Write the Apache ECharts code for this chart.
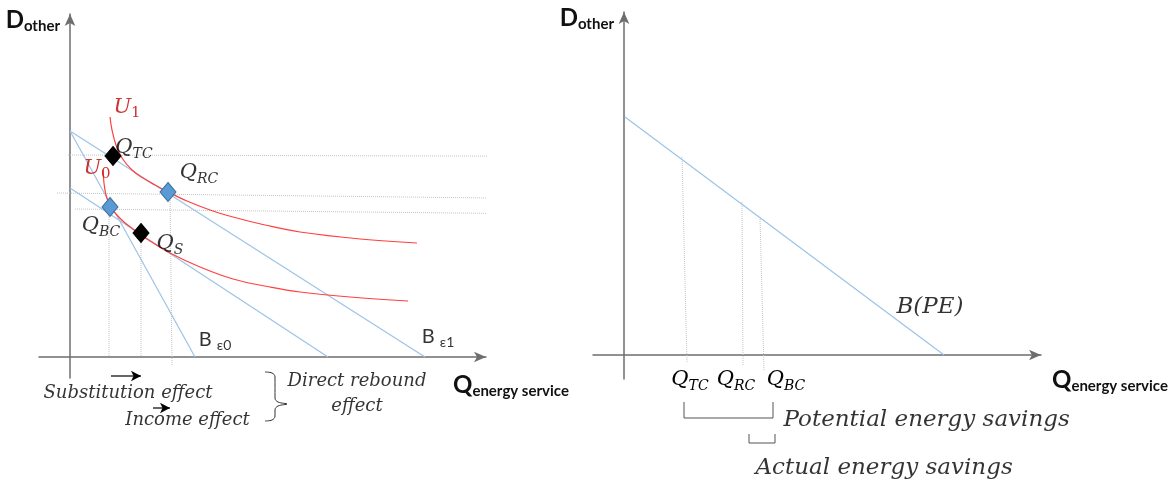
<!DOCTYPE html>
<html>
<head>
<meta charset="utf-8">
<title>Direct rebound effect</title>
<script src="https://cdn.jsdelivr.net/npm/echarts@6.0.0/dist/echarts.min.js"></script>
<style>
  html, body { margin: 0; padding: 0; background: #fff; }
  #chart { width: 1174px; height: 488px; }
</style>
</head>
<body>
<div id="chart"></div>
<script>
// left panel (1 unit ~ 10px, origin where the axes cross)
const budgetB0 = [[0, 22.6], [12.5, 0]];
const budgetB1 = [[0, 22.6], [35.5, 0]];
const budgetComp = [[0, 16.9], [25.8, 0]];
const curveU1 = [[4.0, 24.0], [4.2, 22.7], [4.6, 21.2], [5.2, 19.9], [6.2, 18.7], [7.3, 17.9], [8.5, 17.2],
  [9.8, 16.5], [11.7, 15.6], [14.0, 14.7], [16.3, 14.0], [19.5, 13.2], [23.0, 12.5], [29.0, 11.8], [34.7, 11.4]];
const curveU0 = [[3.3, 18.7], [3.4, 17.4], [3.6, 16.2], [4.0, 15.1], [4.6, 14.3], [5.4, 13.5], [6.3, 12.8],
  [7.1, 12.2], [8.0, 11.6], [10.0, 10.4], [13.0, 9.0], [16.3, 7.8], [20.0, 7.0], [23.0, 6.5], [28.0, 6.0], [33.8, 5.6]];
const pointTC = [4.3, 20.1];
const pointRC = [9.8, 16.5];
const pointBC = [4.0, 15.0];
const pointS = [7.1, 12.4];
const levelLines = [
  [[-0.2, 20.2], [76.7, 20.0]],
  [[-1.3, 16.4], [76.7, 15.5]],
  [[0.5, 14.8], [76.7, 14.0]]
];
const dropLinesLeft = [
  [[3.9, 15.0], [3.9, 0]],
  [[7.1, 12.4], [7.1, 0]],
  [[10.0, 16.5], [10.2, -0.8]]
];
const substitutionArrow = [[4.1, -1.9], [7.1, -1.9]];
const incomeArrow = [[8.3, -5.1], [10.0, -5.1]];
const brace = [[19.5, -1.5], [20.2, -1.6], [20.5, -2.0], [20.5, -4.1], [20.8, -4.5], [21.7, -4.7],
  [20.8, -4.9], [20.5, -5.3], [20.5, -5.9], [20.2, -6.3], [19.5, -6.4]];

// right panel
const budgetPE = [[0.1, 23.8], [32.0, 0]];
const dropLinesRight = [
  [[5.8, 19.8], [6.3, -0.8]],
  [[11.8, 15.3], [11.9, -1.1]],
  [[13.6, 13.8], [14.0, -1.6]]
];
const qTicks = [6.6, 11.2, 16.2];
const qTickLabels = ['TC', 'RC', 'BC'];
const potentialBracket = [[6.0, -4.7], [6.0, -6.3], [14.9, -6.3], [14.9, -4.7]];
const actualBracket = [[12.5, -7.9], [12.5, -8.8], [15.1, -8.8], [15.1, -7.9]];

const mathFont = 'DejaVu Serif';
const rich = {
  q: { fontFamily: mathFont, fontStyle: 'italic', fontSize: 21, color: '#000', lineHeight: 26 },
  s: { fontFamily: mathFont, fontStyle: 'italic', fontSize: 14, color: '#000', lineHeight: 10, verticalAlign: 'bottom' },
  u: { fontFamily: mathFont, fontStyle: 'italic', fontSize: 21, color: '#c00000', lineHeight: 26 },
  us: { fontFamily: mathFont, fontSize: 15, color: '#c00000', lineHeight: 10, verticalAlign: 'bottom' },
  b: { fontFamily: 'Lato', fontSize: 20, color: '#000', lineHeight: 24 },
  bs: { fontFamily: 'Lato', fontSize: 14, color: '#000', lineHeight: 12, verticalAlign: 'bottom' },
  t: { fontFamily: mathFont, fontStyle: 'italic', fontSize: 18, color: '#000', lineHeight: 25 },
  big: { fontFamily: mathFont, fontStyle: 'italic', fontSize: 23, color: '#000', lineHeight: 30 },
  d: { fontFamily: 'Lato', fontWeight: 'bold', fontSize: 24, color: '#111', lineHeight: 28 },
  ds: { fontFamily: 'Lato', fontWeight: 'bold', fontSize: 15, color: '#111', lineHeight: 12, verticalAlign: 'bottom' }
};

const mid = seg => [(seg[0][0] + seg[seg.length - 1][0]) / 2, seg[0][1]];

function line(data, grid, color, width, type, extra) {
  return Object.assign({
    type: 'line', xAxisIndex: grid, yAxisIndex: grid, data: data,
    symbol: 'none', clip: false, silent: true,
    lineStyle: { color: color, width: width, type: type || 'solid' }
  }, extra || {});
}

function arrow(seg) {
  return line([seg[0], { value: seg[1], symbol: 'arrow', symbolSize: [8, 10], symbolRotate: -90 }],
    0, '#000', 1.2, 'solid', { showSymbol: true, itemStyle: { color: '#000' } });
}

function diamonds(points, fill, border) {
  return {
    type: 'scatter', xAxisIndex: 0, yAxisIndex: 0, data: points, silent: true, z: 5,
    symbol: 'diamond', symbolSize: [16, 19],
    itemStyle: { color: fill, borderColor: border, borderWidth: 1, opacity: 1 }
  };
}

function notes(grid, items) {
  return {
    type: 'scatter', xAxisIndex: grid, yAxisIndex: grid, silent: true, clip: false, z: 6,
    symbol: 'circle', symbolSize: 1, itemStyle: { color: 'rgba(0,0,0,0)' },
    label: { show: true, position: 'inside', color: '#000', rich: rich },
    data: items
  };
}

const grey = '#c4c4c4';
const blue = '#9dc3e6';
const red = '#ff4040';

function axes(gridIndex, xMin, xMax, yMin, yMax, nameGapX, padX, showTicks) {
  const axisLine = {
    onZero: true, symbol: ['none', 'arrow'], symbolSize: [8, 12],
    lineStyle: { color: '#6e6e6e', width: 1.5 }
  };
  const x = {
    type: 'value', gridIndex: gridIndex, min: xMin, max: xMax,
    axisLine: axisLine, axisTick: { show: false }, splitLine: { show: false },
    axisLabel: showTicks ? {
      show: true, customValues: qTicks, margin: -12, rich: rich,
      formatter: (v, i) => '{q|Q}{s|' + qTickLabels[qTicks.indexOf(v) >= 0 ? qTicks.indexOf(v) : i] + '}'
    } : { show: false },
    name: '{d|Q}{ds|energy service}', nameLocation: 'end', nameGap: nameGapX,
    nameTextStyle: { align: 'left', verticalAlign: 'top', padding: [padX, 0, 0, 0], rich: rich }
  };
  const y = {
    type: 'value', gridIndex: gridIndex, min: yMin, max: yMax,
    axisLine: axisLine, axisTick: { show: false }, splitLine: { show: false }, axisLabel: { show: false },
    name: '{d|D}{ds|other}', nameLocation: 'end', nameGap: -20,
    nameTextStyle: { align: 'right', verticalAlign: 'bottom', padding: [0, 10, 0, 0], rich: rich }
  };
  return [x, y];
}

const left = axes(0, -3.1, 41.6, -2.1, 34.3, -33, 14, false);
const right = axes(1, -3.1, 41.7, -2.4, 34.3, 11, 11, true);

const series = [];
levelLines.forEach(s => series.push(line(s, 0, grey, 1, 'dotted')));
dropLinesLeft.forEach(s => series.push(line(s, 0, grey, 1, 'dotted')));
dropLinesRight.forEach(s => series.push(line(s, 1, grey, 1, 'dotted')));
series.push(line(budgetB0, 0, blue, 1.2));
series.push(line(budgetB1, 0, blue, 1.2));
series.push(line(budgetComp, 0, blue, 1.2));
series.push(line(curveU1, 0, red, 1.2, 'solid', { smooth: 0.4 }));
series.push(line(curveU0, 0, red, 1.2, 'solid', { smooth: 0.4 }));
series.push(line(budgetPE, 1, blue, 1.2));
series.push(arrow(substitutionArrow));
series.push(arrow(incomeArrow));
series.push(line(brace, 0, '#333', 1, 'solid', { smooth: 0.4 }));
series.push(line(potentialBracket, 1, '#555', 1));
series.push(line(actualBracket, 1, '#555', 1));
series.push(diamonds([pointTC, pointS], '#000', '#000'));
series.push(diamonds([pointRC, pointBC], '#5b9bd5', '#41719c'));

series.push(notes(0, [
  { value: pointTC, label: { offset: [21, -8], formatter: '{q|Q}{s|TC}' } },
  { value: pointRC, label: { offset: [31, -19], formatter: '{q|Q}{s|RC}' } },
  { value: pointBC, label: { offset: [-9, 19], formatter: '{q|Q}{s|BC}' } },
  { value: pointS, label: { offset: [29, 11], formatter: '{q|Q}{s|S}' } },
  { value: curveU1[0], label: { offset: [17, -9], formatter: '{u|U}{us|1}' } },
  { value: curveU0[0], label: { offset: [-6, -1], formatter: '{u|U}{us|0}' } },
  { value: budgetB0[1], label: { offset: [20, -17], formatter: '{b|B }{bs|ε0}' } },
  { value: budgetB1[1], label: { offset: [13, -20], formatter: '{b|B }{bs|ε1}' } },
  { value: mid(substitutionArrow), label: { offset: [2, 17], formatter: '{t|Substitution effect}' } },
  { value: mid(incomeArrow), label: { offset: [26, 12], formatter: '{t|Income effect}' } },
  { value: brace[5], label: { offset: [70, -10], formatter: '{t|Direct rebound}\n{t|effect}' } }
]));
series.push(notes(1, [
  { value: budgetPE[1], label: { offset: [-14, -48], formatter: '{big|B(PE)}' } },
  { value: potentialBracket[2], label: { position: 'right', distance: 10, offset: [0, 2], formatter: '{big|Potential energy savings}' } },
  { value: actualBracket[1], label: { position: 'right', distance: 6, offset: [0, 25], formatter: '{big|Actual energy savings}' } }
]));

const chart = echarts.init(document.getElementById('chart'), null, { renderer: 'canvas' });
chart.setOption({
  animation: false,
  backgroundColor: '#fff',
  grid: [
    { left: 39, top: 14, width: 447, height: 364, outerBoundsMode: 'none' },
    { left: 593, top: 12, width: 448, height: 367, outerBoundsMode: 'none' }
  ],
  xAxis: [left[0], right[0]],
  yAxis: [left[1], right[1]],
  series: series
});
</script>
</body>
</html>
